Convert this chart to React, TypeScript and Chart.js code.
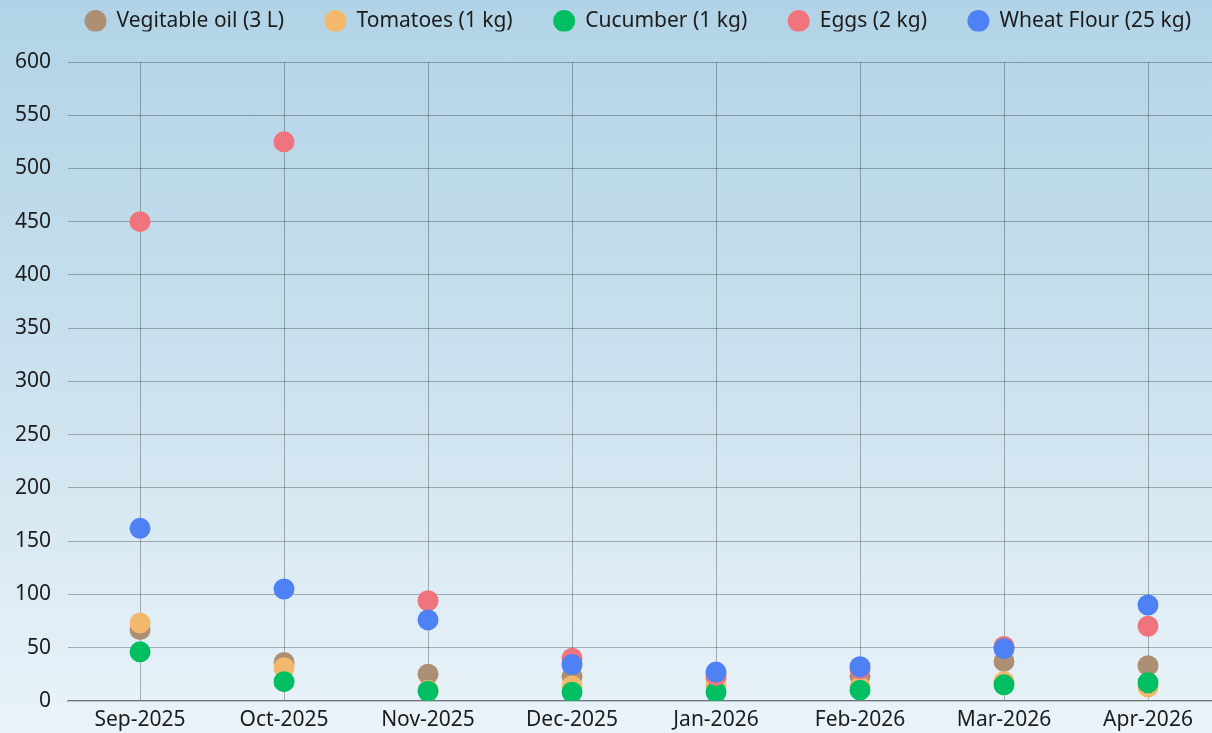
import React, { useEffect, useRef } from "react";
import { Chart, registerables } from "chart.js";

Chart.register(...registerables);

const months = ["Sep-2025", "Oct-2025", "Nov-2025", "Dec-2025", "Jan-2026", "Feb-2026", "Mar-2026", "Apr-2026"];
const vegOil = [67, 36, 25, 23, 21, 23, 37, 33];
const tomatoes = [73, 31, 10, 14, 14, 13, 18, 13];
const cucumber = [46, 18, 9, 8, 8, 10, 15, 17];
const eggs = [450, 525, 94, 40, 24, 30, 51, 70];
const wheatFlour = [162, 105, 76, 34, 27, 32, 49, 90];

const seriesNames = ["Vegitable oil (3 L)", "Tomatoes (1 kg)", "Cucumber (1 kg)", "Eggs (2 kg)", "Wheat Flour (25 kg)"];
const seriesColors = ["#ad8f74", "#f4b86c", "#00bf62", "#f0747d", "#4e82f4"];

const legendTweak = {
  id: "legendTweak",
  beforeLayout(chart: any) {
    const lg = chart.legend;
    if (lg && !lg._tweaked) {
      const fit = lg.fit.bind(lg);
      lg.fit = function () {
        fit();
        this.height = 62;
      };
      const draw = lg.draw.bind(lg);
      lg.draw = function () {
        const ctx = this.ctx;
        ctx.save();
        ctx.translate(29, -30.5);
        draw();
        ctx.restore();
      };
      lg._tweaked = true;
    }
  },
};

export default function App() {
  const ref = useRef<HTMLCanvasElement>(null);
  useEffect(() => {
    if (!ref.current) return;
    Chart.defaults.font.family = "'Noto Sans'";
    Chart.defaults.font.size = 21;
    Chart.defaults.color = "#1c1c1c";
    const values = [vegOil, tomatoes, cucumber, eggs, wheatFlour];
    const chart = new Chart(ref.current, {
      type: "line",
      data: {
        labels: months,
        datasets: values.map((v, i) => ({
          label: seriesNames[i],
          data: v,
          order: values.length - 1 - i,
          showLine: false,
          backgroundColor: seriesColors[i],
          borderColor: seriesColors[i],
          borderWidth: 0,
          pointRadius: 10.5,
          pointHoverRadius: 10.5,
          pointBorderWidth: 0,
          pointBackgroundColor: seriesColors[i],
        })),
      },
      options: {
        responsive: false,
        animation: false,
        layout: { padding: { left: 0, right: 12, top: 0, bottom: 1 } },
        plugins: {
          legend: {
            position: "top",
            labels: {
              usePointStyle: true,
              pointStyle: "circle",
              boxWidth: 21,
              boxHeight: 15.5,
              padding: 41,
              color: "#1c1c1c",
              font: { size: 21 },
              sort: (a: any, b: any) => a.datasetIndex - b.datasetIndex,
            },
          },
          tooltip: { enabled: false },
        },
        scales: {
          x: {
            offset: true,
            grid: { offset: false, color: "rgba(0,0,0,0.28)", drawTicks: false, lineWidth: 1 },
            border: { display: true, color: "rgba(0,0,0,0.35)", width: 1.5 },
            ticks: { padding: 6.5, maxRotation: 0, autoSkip: false, color: "#1c1c1c" },
          },
          y: {
            min: 0,
            max: 600,
            ticks: { stepSize: 50, padding: 17, color: "#1c1c1c" },
            grid: { color: "rgba(0,0,0,0.28)", drawTicks: false, lineWidth: 1 },
            border: { display: false },
          },
        },
      },
      plugins: [legendTweak],
    });
    return () => chart.destroy();
  }, []);
  return (
    <div
      style={{
        position: "fixed",
        left: 0,
        top: 0,
        width: 1212,
        height: 733,
        overflow: "hidden",
        background: "linear-gradient(to bottom, #b2d3e7 0%, #c4deec 40%, #eaf3f9 100%)",
      }}
    >
      <canvas ref={ref} width={1234} height={740} style={{ position: "absolute", left: -2, top: 0 }} />
    </div>
  );
}
